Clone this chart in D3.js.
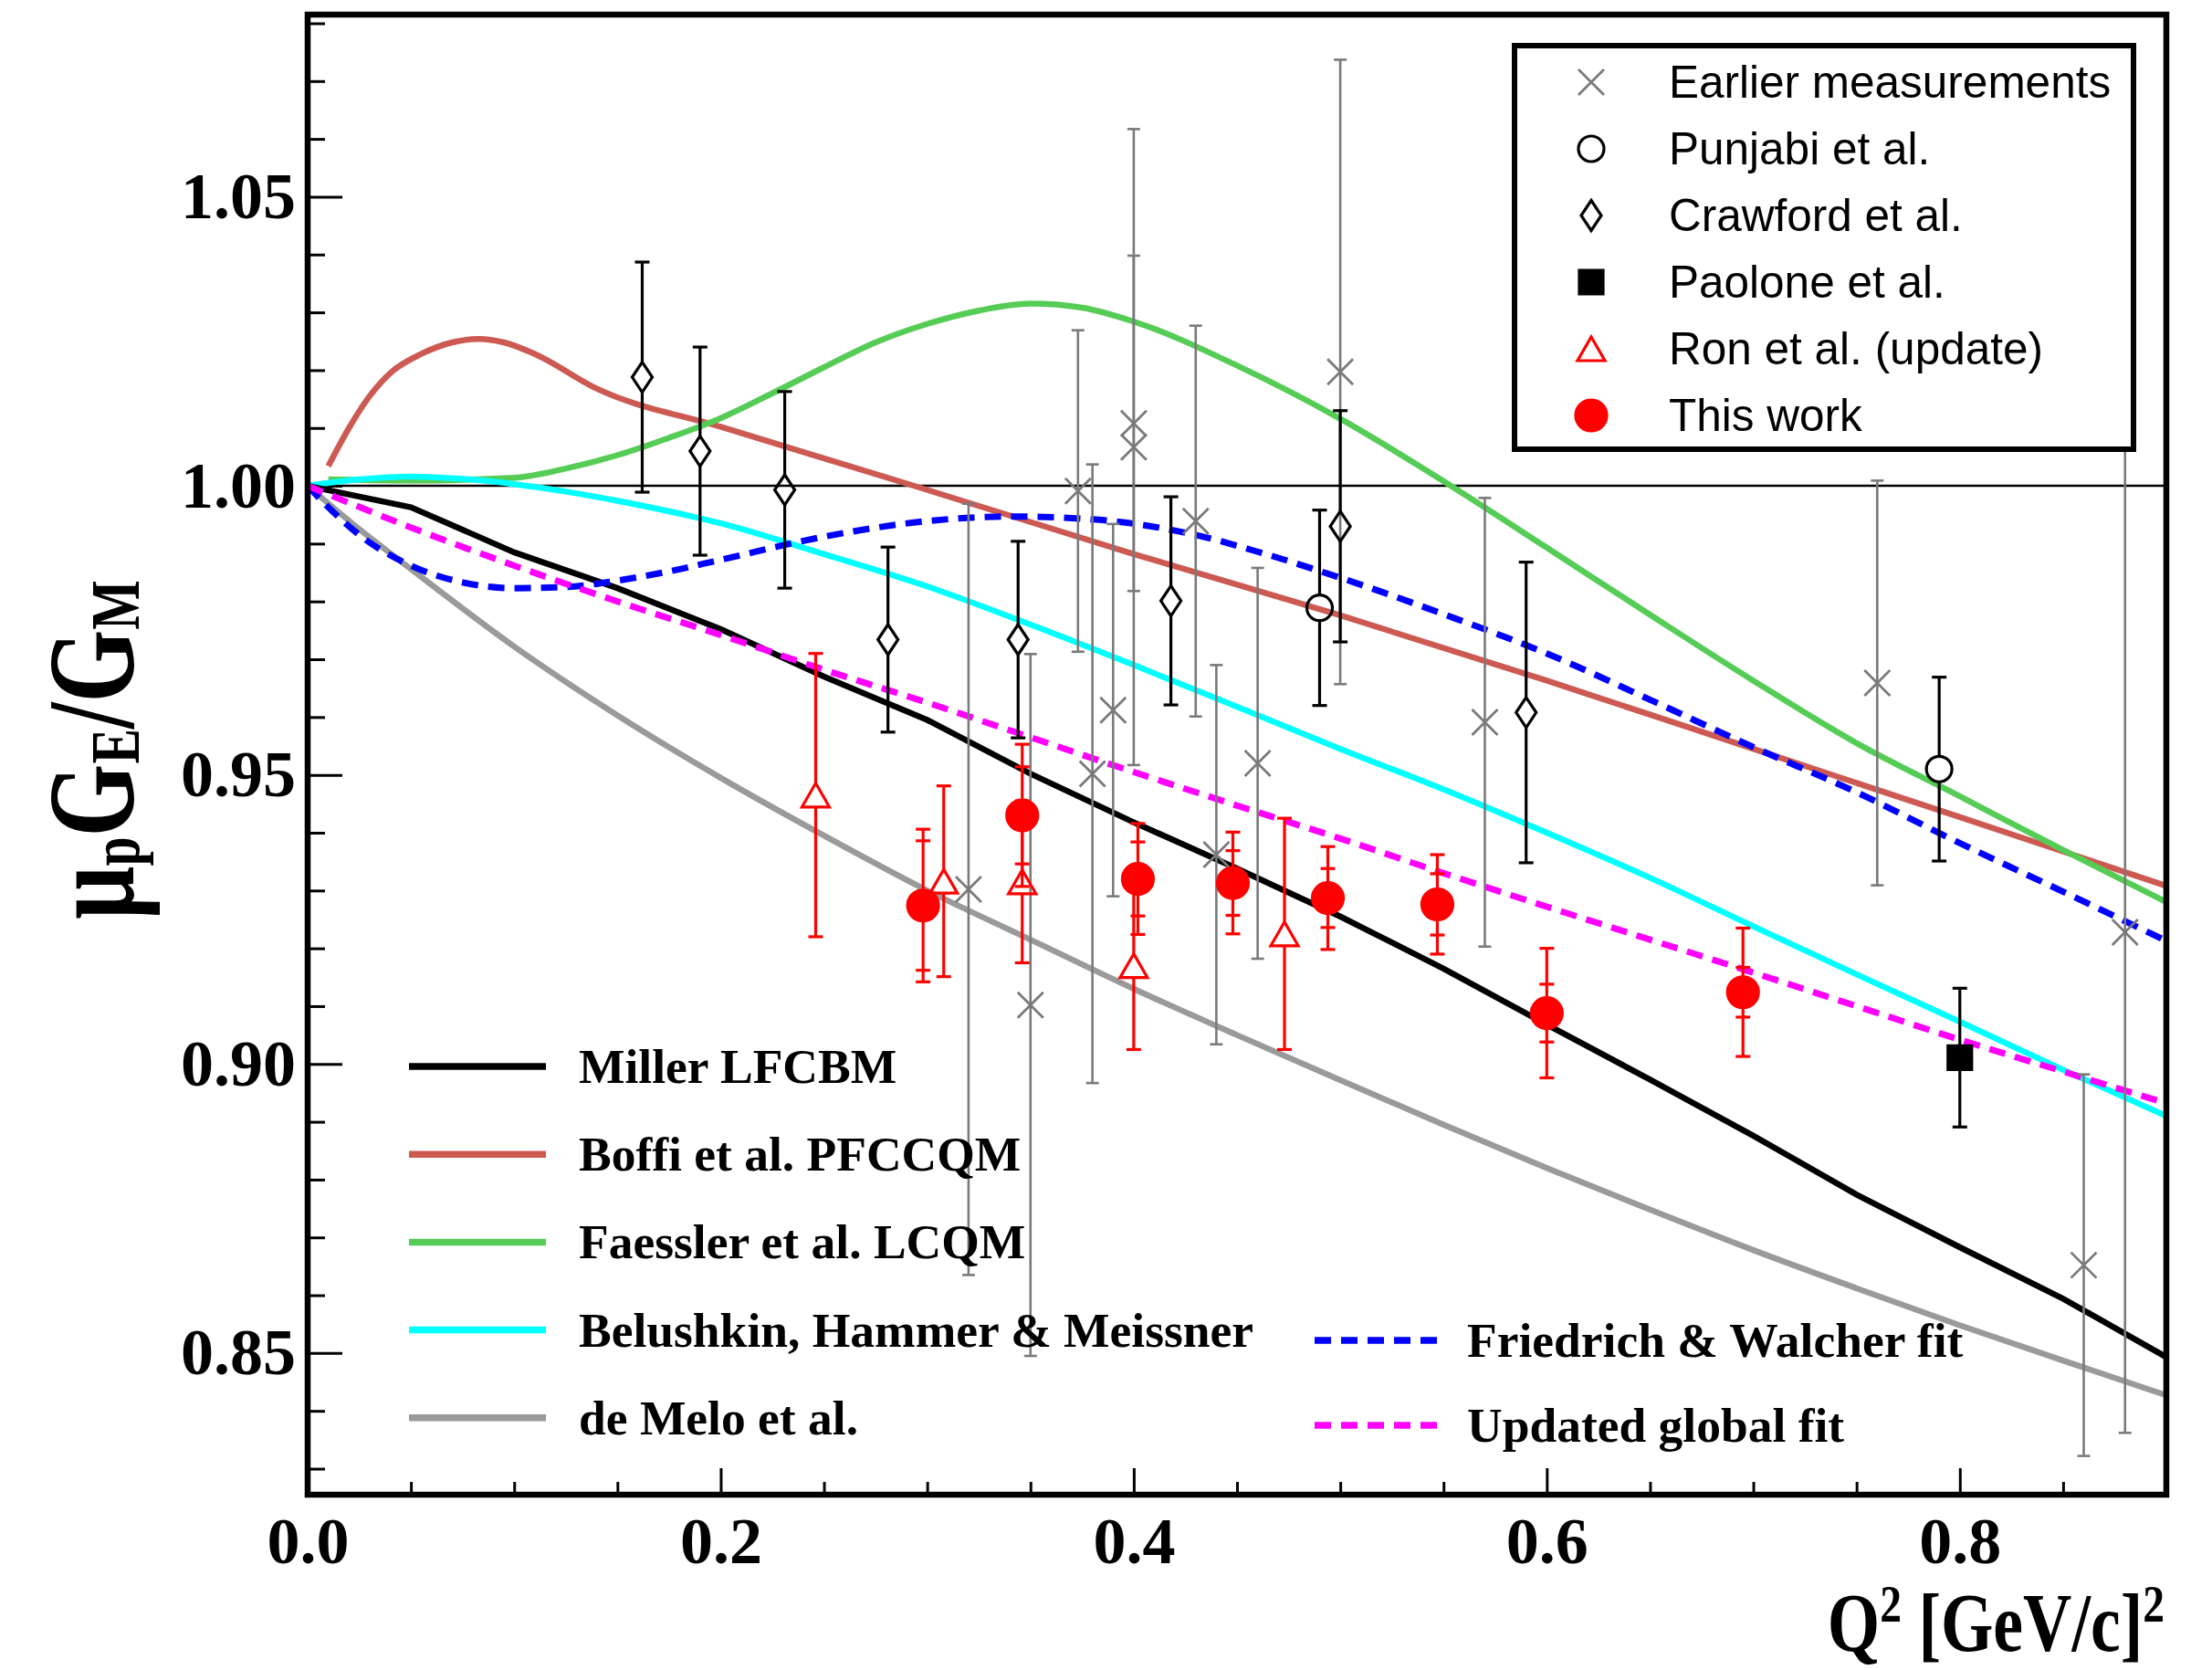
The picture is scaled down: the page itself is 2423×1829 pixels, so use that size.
<!DOCTYPE html>
<html>
<head>
<meta charset="utf-8" />
<title>mu_p GE/GM vs Q2</title>
<script src="https://cdn.jsdelivr.net/npm/d3@7"></script>
<style>
  body { margin: 0; background: #fff; }
  svg text { font-family: "Liberation Serif", "Times New Roman", serif; }
  .sans { font-family: "Liberation Sans", Arial, sans-serif; }
</style>
</head>
<body>
<svg id="chart"></svg>
<script>
// ---- theory curves: [Q2, mu_p GE/GM] ----
var miller = [[0,1.0],[0.05,0.9963],[0.1,0.9885],[0.15,0.9823],[0.2,0.9752],[0.25,0.9670],[0.3,0.9595],[0.35,0.9502],[0.4,0.9418],[0.45,0.9338],[0.5,0.9255],[0.55,0.9165],[0.6,0.9068],[0.65,0.8973],[0.7,0.8876],[0.75,0.8774],[0.8,0.8683],[0.85,0.8594],[0.9,0.8493]];
var boffi = [[0.01,1.0034],[0.02,1.0100],[0.03,1.0155],[0.04,1.0195],[0.055,1.0228],[0.07,1.0248],[0.083,1.0254],[0.095,1.0248],[0.11,1.0228],[0.14,1.0168],[0.2,1.0102],[0.3,0.9993],[0.4,0.9882],[0.5,0.9776],[0.6,0.9663],[0.7,0.9545],[0.8,0.9427],[0.9,0.9308]];
var faessler = [[0.01,1.0011],[0.05,1.0009],[0.1,1.0014],[0.125,1.0030],[0.15,1.0053],[0.175,1.0083],[0.2,1.0117],[0.225,1.0160],[0.25,1.0205],[0.275,1.0248],[0.3,1.0280],[0.325,1.0303],[0.35,1.0315],[0.375,1.0308],[0.4,1.0284],[0.45,1.0208],[0.5,1.0116],[0.55,1.0008],[0.6,0.9893],[0.65,0.9777],[0.7,0.9663],[0.75,0.9555],[0.8,0.9463],[0.85,0.9370],[0.9,0.9280]];
var belushkin = [[0,1.0],[0.025,1.0011],[0.05,1.0016],[0.075,1.0012],[0.1,1.0003],[0.125,0.9990],[0.15,0.9974],[0.2,0.9935],[0.25,0.9882],[0.3,0.9826],[0.35,0.9760],[0.4,0.9690],[0.45,0.9618],[0.5,0.9545],[0.55,0.9475],[0.6,0.9400],[0.65,0.9322],[0.7,0.9238],[0.75,0.9155],[0.8,0.9073],[0.85,0.8990],[0.9,0.8910]];
var deMelo = [[0,1.0],[0.025,0.9925],[0.05,0.9856],[0.1,0.9722],[0.15,0.9603],[0.2,0.9495],[0.25,0.9395],[0.3,0.9300],[0.35,0.9215],[0.4,0.9130],[0.45,0.9050],[0.5,0.8972],[0.55,0.8895],[0.6,0.8820],[0.65,0.8748],[0.7,0.8678],[0.75,0.8612],[0.8,0.8548],[0.85,0.8487],[0.9,0.8427]];
var friedrich = [[0,1.0],[0.01,0.9963],[0.025,0.9915],[0.05,0.9862],[0.075,0.9833],[0.1,0.9823],[0.125,0.9825],[0.15,0.9836],[0.175,0.9852],[0.2,0.9872],[0.25,0.9912],[0.3,0.9939],[0.34,0.9947],[0.38,0.9942],[0.43,0.9915],[0.46,0.9886],[0.5,0.9841],[0.55,0.9778],[0.6,0.9710],[0.65,0.9630],[0.7,0.9548],[0.75,0.9470],[0.8,0.9382],[0.85,0.9298],[0.9,0.9213]];
var globalFit = [[0,1.0],[0.05,0.9928],[0.1,0.9862],[0.15,0.9800],[0.2,0.9742],[0.25,0.9682],[0.3,0.9625],[0.35,0.9565],[0.4,0.9505],[0.45,0.9447],[0.5,0.9390],[0.55,0.9330],[0.6,0.9272],[0.65,0.9215],[0.7,0.9158],[0.75,0.9100],[0.8,0.9042],[0.85,0.8987],[0.9,0.8932]];

// ---- measurements ----
var earlierQ2 = [0.320,0.350,0.373,0.380,0.390,0.400,0.400,0.430,0.440,0.460,0.500,0.570,0.760,0.860,0.880];
var earlierR = [0.9302,0.9102,0.9991,0.9502,0.9612,1.0108,1.0067,0.9939,0.9362,0.9520,1.0197,0.9591,0.9659,0.8652,0.9228];
var earlierErr = [0.0667,0.0607,0.0278,0.0535,0.0322,0.0290,0.0550,0.0338,0.0328,0.0338,0.0540,0.0388,0.0350,0.0330,0.0866];

var punjabiQ2 = [0.490, 0.790];
var punjabiR = [0.9789, 0.9510];
var punjabiErr = [0.0169, 0.0159];

var crawfordQ2 = [0.162,0.190,0.231,0.281,0.344,0.418,0.500,0.590];
var crawfordR = [1.0188,1.0060,0.9993,0.9734,0.9734,0.9801,0.9930,0.9608];
var crawfordErr = [0.0199,0.0180,0.0170,0.0160,0.0170,0.0180,0.0200,0.0260];

var paoloneQ2 = [0.800];
var paoloneR = [0.9011];
var paoloneErr = [0.0120];

var ronQ2 = [0.246,0.308,0.346,0.400,0.473];
var ronR = [0.9465,0.9316,0.9315,0.9170,0.9225];
var ronErr = [0.0245,0.0165,0.0140,0.0145,0.0200];

var thisQ2 = [0.298,0.346,0.402,0.448,0.494,0.547,0.600,0.695];
var thisR = [0.9274,0.9430,0.9320,0.9313,0.9287,0.9276,0.9088,0.9124];
var thisStat = [0.0112,0.0084,0.0064,0.0056,0.0051,0.0053,0.0050,0.0043];
var thisTot = [0.0132,0.0123,0.0096,0.0088,0.0089,0.0086,0.0112,0.0111];

var xTicks = [0, 0.2, 0.4, 0.6, 0.8];
var yTicks = [0.85, 0.90, 0.95, 1.00, 1.05];

var W = 2423, H = 1829;
var pL = 337, pR = 2373, pT = 16, pB = 1637;

var svg = d3.select("#chart").attr("width", W).attr("height", H)
  .attr("viewBox", [0, 0, W, H]);
svg.append("rect").attr("width", W).attr("height", H).attr("fill", "#fff");

var x = d3.scaleLinear().domain([0, 0.9]).range([pL, pR]);
var y = d3.scaleLinear().domain([0.8255, 1.0815]).range([pB, pT]);

svg.append("clipPath").attr("id", "plot").append("rect")
  .attr("x", pL).attr("y", pT).attr("width", pR - pL).attr("height", pB - pT);

// axes
var minorY = d3.range(0.83, 1.0815, 0.01).filter(function (v) {
  return Math.abs(Math.round(v * 20) - v * 20) > 0.01;
});
var minorX = d3.range(0.05, 0.9, 0.05).filter(function (v) {
  return Math.abs(Math.round(v * 5) - v * 5) > 0.01;
});

function styleAxis(g) {
  g.select(".domain").remove();
  g.selectAll(".tick line").attr("stroke", "#000").attr("stroke-width", 3);
  g.selectAll(".tick text").attr("fill", "#000").attr("font-size", 72)
    .attr("font-weight", "bold").attr("font-family", "Liberation Serif");
}

svg.append("g").attr("transform", "translate(" + pL + ",0)")
  .call(d3.axisLeft(y).tickValues(yTicks).tickSize(-38).tickPadding(13).tickFormat(d3.format(".2f")))
  .call(styleAxis);
svg.append("g").attr("transform", "translate(" + pL + ",0)")
  .call(d3.axisLeft(y).tickValues(minorY).tickSize(-19).tickFormat(""))
  .call(styleAxis);
svg.append("g").attr("transform", "translate(0," + pB + ")")
  .call(d3.axisBottom(x).tickValues(xTicks).tickSize(-29).tickPadding(24).tickFormat(d3.format(".1f")))
  .call(styleAxis);
svg.append("g").attr("transform", "translate(0," + pB + ")")
  .call(d3.axisBottom(x).tickValues(minorX).tickSize(-14).tickFormat(""))
  .call(styleAxis);

// line at 1
svg.append("line").attr("x1", x(0)).attr("x2", x(0.9)).attr("y1", y(1)).attr("y2", y(1))
  .attr("stroke", "#000").attr("stroke-width", 2.6);

// theory curves
var plot = svg.append("g").attr("clip-path", "url(#plot)");
var smooth = d3.line().x(function (d) { return x(d[0]); }).y(function (d) { return y(d[1]); })
  .curve(d3.curveMonotoneX);
var straight = d3.line().x(function (d) { return x(d[0]); }).y(function (d) { return y(d[1]); });

var DASH = "18,11";
var curves = [
  { data: deMelo, color: "#9a9a9a", dash: null, gen: smooth, w: 6.5 },
  { data: boffi, color: "#cd5a52", dash: null, gen: smooth, w: 6.5 },
  { data: faessler, color: "#55cc55", dash: null, gen: smooth, w: 6.5 },
  { data: belushkin, color: "#00ffff", dash: null, gen: smooth, w: 6.5 },
  { data: miller, color: "#000000", dash: null, gen: straight, w: 6.5 },
  { data: friedrich, color: "#0000ff", dash: DASH, gen: smooth, w: 7 },
  { data: globalFit, color: "#ff00ff", dash: DASH, gen: smooth, w: 7 }
];
curves.forEach(function (c) {
  plot.append("path").attr("d", c.gen(c.data)).attr("fill", "none")
    .attr("stroke", c.color).attr("stroke-width", c.w)
    .attr("stroke-dasharray", c.dash);
});

// markers
function markerPath(type) {
  switch (type) {
    case "x": return "M-14,-14L14,14M-14,14L14,-14";
    case "circle": return d3.symbol(d3.symbolCircle, Math.PI * 14 * 14)();
    case "dot": return d3.symbol(d3.symbolCircle, Math.PI * 17 * 17)();
    case "diamond": return "M0,-16.5L11,0L0,16.5L-11,0Z";
    case "square": return "M-13,-13H13V13H-13Z";
    case "triangle": return "M0,-13L15,13H-15Z";
  }
}
var halfH = { x: 0, circle: 14, dot: 0, diamond: 16.5, square: 0, triangle: 13 };

function drawMarker(g, type, cx, cy, color, fill) {
  g.append("path").attr("d", markerPath(type))
    .attr("transform", "translate(" + cx + "," + cy + ")")
    .attr("fill", fill ? color : "none").attr("stroke", color)
    .attr("stroke-width", type === "x" ? 2.8 : 3.2);
}

function errSeries(q2, r, err, opt) {
  var g = plot.append("g").attr("stroke", opt.color).attr("stroke-width", opt.lw);
  q2.forEach(function (q, i) {
    var cx = x(q), cy = y(r[i]);
    var yt = y(r[i] + err[i]), yb = y(r[i] - err[i]);
    var gap = halfH[opt.type];
    g.append("line").attr("x1", cx).attr("x2", cx).attr("y1", yt).attr("y2", cy - gap);
    g.append("line").attr("x1", cx).attr("x2", cx).attr("y1", cy + gap).attr("y2", yb);
    [yt, yb].forEach(function (yy) {
      g.append("line").attr("x1", cx - opt.cap).attr("x2", cx + opt.cap).attr("y1", yy).attr("y2", yy);
    });
    if (opt.inner) {
      [y(r[i] + opt.inner[i]), y(r[i] - opt.inner[i])].forEach(function (yy) {
        g.append("line").attr("x1", cx - opt.cap).attr("x2", cx + opt.cap).attr("y1", yy).attr("y2", yy);
      });
    }
  });
  q2.forEach(function (q, i) {
    drawMarker(plot, opt.type, x(q), y(r[i]), opt.color, opt.fill);
  });
}

errSeries(earlierQ2, earlierR, earlierErr, { color: "#7a7a7a", lw: 2.6, cap: 7, type: "x", fill: false });
errSeries(crawfordQ2, crawfordR, crawfordErr, { color: "#000", lw: 3.2, cap: 8, type: "diamond", fill: false });
errSeries(punjabiQ2, punjabiR, punjabiErr, { color: "#000", lw: 3.2, cap: 8, type: "circle", fill: false });
errSeries(paoloneQ2, paoloneR, paoloneErr, { color: "#000", lw: 3.2, cap: 8, type: "square", fill: true });
errSeries(ronQ2, ronR, ronErr, { color: "#ff0000", lw: 3.2, cap: 8, type: "triangle", fill: false });
errSeries(thisQ2, thisR, thisTot, { color: "#ff0000", lw: 3.2, cap: 8, type: "dot", fill: true, inner: thisStat });

// frame
svg.append("rect").attr("x", pL).attr("y", pT).attr("width", pR - pL).attr("height", pB - pT)
  .attr("fill", "none").attr("stroke", "#000").attr("stroke-width", 6.5);

// data legend (top right)
var dataLegend = [
  { label: "Earlier measurements", type: "x", color: "#7a7a7a", fill: false },
  { label: "Punjabi et al.", type: "circle", color: "#000", fill: false },
  { label: "Crawford et al.", type: "diamond", color: "#000", fill: false },
  { label: "Paolone et al.", type: "square", color: "#000", fill: true },
  { label: "Ron et al. (update)", type: "triangle", color: "#ff0000", fill: false },
  { label: "This work", type: "dot", color: "#ff0000", fill: true }
];
var lg = svg.append("g");
lg.append("rect").attr("x", 1659).attr("y", 50).attr("width", 678).attr("height", 442)
  .attr("fill", "#fff").attr("stroke", "#000").attr("stroke-width", 6);
dataLegend.forEach(function (d, i) {
  var cy = 90 + i * 73;
  drawMarker(lg, d.type, 1743, cy, d.color, d.fill);
  lg.append("text").attr("class", "sans").attr("x", 1828).attr("y", cy + 17)
    .attr("font-size", 49.5).attr("fill", "#000").text(d.label);
});

// model legend (bottom)
var modelLegend = [
  { label: "Miller LFCBM", color: "#000000" },
  { label: "Boffi et al. PFCCQM", color: "#cd5a52" },
  { label: "Faessler et al. LCQM", color: "#55cc55" },
  { label: "Belushkin, Hammer & Meissner", color: "#00ffff" },
  { label: "de Melo et al.", color: "#9a9a9a" }
];
var fitLegend = [
  { label: "Friedrich & Walcher fit", color: "#0000ff" },
  { label: "Updated global fit", color: "#ff00ff" }
];
var ml = svg.append("g");
modelLegend.forEach(function (d, i) {
  var cy = 1168 + i * 96.2;
  ml.append("line").attr("x1", 448).attr("x2", 598).attr("y1", cy).attr("y2", cy)
    .attr("stroke", d.color).attr("stroke-width", 7.5);
  ml.append("text").attr("x", 634).attr("y", cy + 18).attr("font-size", 53.5)
    .attr("font-weight", "bold").text(d.label);
});
fitLegend.forEach(function (d, i) {
  var cy = 1468 + i * 93;
  ml.append("line").attr("x1", 1440).attr("x2", 1576).attr("y1", cy).attr("y2", cy)
    .attr("stroke", d.color).attr("stroke-width", 7.5).attr("stroke-dasharray", DASH);
  ml.append("text").attr("x", 1607).attr("y", cy + 18).attr("font-size", 53.5)
    .attr("font-weight", "bold").text(d.label);
});

// axis titles
var yt = svg.append("text").attr("transform", "translate(146,821) rotate(-90) scale(0.76,1)")
  .attr("text-anchor", "middle").attr("font-weight", "bold").attr("font-size", 135);
yt.append("tspan").text("\u03bc");
yt.append("tspan").attr("font-size", 76).attr("dy", 6).text("p");
yt.append("tspan").attr("dy", -6).text("G");
yt.append("tspan").attr("font-size", 76).attr("dy", 6).text("E");
yt.append("tspan").attr("dy", -6).text("/G");
yt.append("tspan").attr("font-size", 76).attr("dy", 6).text("M");

var xt = svg.append("text").attr("transform", "translate(2371,1808) scale(0.82,1)")
  .attr("text-anchor", "end").attr("font-weight", "bold").attr("font-size", 90);
xt.append("tspan").text("Q");
xt.append("tspan").attr("font-size", 58).attr("dy", -32).text("2");
xt.append("tspan").attr("dy", 32).text(" [GeV/c]");
xt.append("tspan").attr("font-size", 58).attr("dy", -32).text("2");
</script>
</body>
</html>
